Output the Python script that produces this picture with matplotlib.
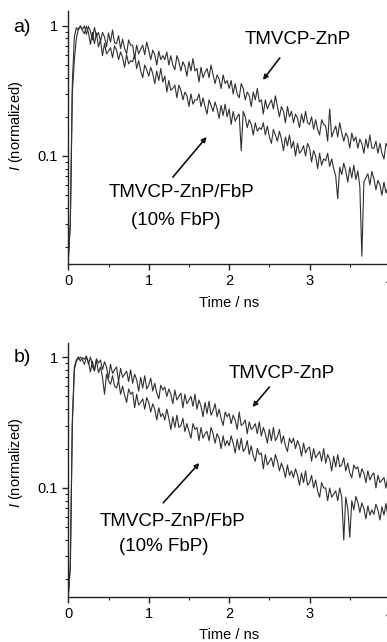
import numpy as np
import matplotlib.pyplot as plt
from matplotlib.ticker import FuncFormatter, NullFormatter, LogLocator, MultipleLocator

plt.rcParams['font.family'] = ['Liberation Sans', 'DejaVu Sans']
plt.rcParams['mathtext.fontset'] = 'custom'
plt.rcParams['mathtext.it'] = 'Liberation Sans:italic'
plt.rcParams['mathtext.rm'] = 'Liberation Sans'

# sampling grid of the decay traces (ns), 0.025 ns channels
time = np.arange(161) * 0.025

# ---- panel a ----
a_znp = [0.016, 0.03, 0.36, 0.82, 0.97, 0.93, 1.0, 0.94,
         1.0, 0.86, 0.99, 0.91, 0.78, 0.97, 0.83, 0.89,
         0.76, 0.89, 0.82, 0.69, 0.88, 0.75, 0.93, 0.74,
         0.73, 0.84, 0.67, 0.79, 0.67, 0.61, 0.78, 0.71,
         0.71, 0.56, 0.71, 0.61, 0.66, 0.71, 0.60, 0.75,
         0.65, 0.55, 0.65, 0.60, 0.50, 0.64, 0.55, 0.59,
         0.55, 0.63, 0.50, 0.59, 0.50, 0.46, 0.59, 0.53,
         0.45, 0.53, 0.49, 0.41, 0.53, 0.45, 0.56, 0.45,
         0.47, 0.37, 0.48, 0.40, 0.44, 0.47, 0.40, 0.50,
         0.42, 0.36, 0.42, 0.39, 0.33, 0.42, 0.36, 0.38,
         0.33, 0.38, 0.30, 0.36, 0.30, 0.28, 0.36, 0.33,
         0.27, 0.31, 0.29, 0.24, 0.31, 0.27, 0.33, 0.26,
         0.27, 0.21, 0.27, 0.23, 0.25, 0.27, 0.23, 0.29,
         0.24, 0.20, 0.24, 0.22, 0.18, 0.24, 0.20, 0.22,
         0.18, 0.21, 0.195, 0.165, 0.21, 0.18, 0.22, 0.18,
         0.175, 0.20, 0.16, 0.19, 0.16, 0.145, 0.19, 0.175,
         0.17, 0.13, 0.23, 0.14, 0.155, 0.17, 0.14, 0.18,
         0.15, 0.13, 0.15, 0.14, 0.115, 0.15, 0.13, 0.14,
         0.115, 0.135, 0.125, 0.105, 0.135, 0.115, 0.145, 0.115,
         0.115, 0.13, 0.105, 0.125, 0.105, 0.095, 0.125, 0.115, 0.12]

a_fbp = [0.016, 0.03, 0.30, 0.55, 0.80, 0.95, 0.99, 0.92,
         0.87, 0.99, 0.89, 0.72, 0.89, 0.73, 0.88, 0.69,
         0.78, 0.59, 0.73, 0.61, 0.64, 0.68, 0.57, 0.70,
         0.65, 0.55, 0.63, 0.57, 0.48, 0.60, 0.51, 0.54,
         0.53, 0.60, 0.47, 0.54, 0.45, 0.40, 0.50, 0.46,
         0.41, 0.48, 0.43, 0.36, 0.45, 0.38, 0.47, 0.37,
         0.41, 0.31, 0.38, 0.32, 0.33, 0.35, 0.28, 0.35,
         0.32, 0.27, 0.31, 0.29, 0.24, 0.30, 0.25, 0.27,
         0.27, 0.30, 0.24, 0.28, 0.24, 0.21, 0.27, 0.245,
         0.22, 0.26, 0.23, 0.195, 0.245, 0.205, 0.25, 0.20,
         0.23, 0.175, 0.22, 0.185, 0.20, 0.21, 0.11, 0.22,
         0.20, 0.165, 0.19, 0.175, 0.145, 0.18, 0.155, 0.165,
         0.16, 0.18, 0.145, 0.17, 0.14, 0.125, 0.16, 0.145,
         0.13, 0.155, 0.135, 0.11, 0.14, 0.12, 0.145, 0.115,
         0.13, 0.10, 0.125, 0.105, 0.11, 0.12, 0.10, 0.125,
         0.115, 0.09, 0.11, 0.10, 0.08, 0.105, 0.085, 0.095,
         0.092, 0.105, 0.083, 0.095, 0.08, 0.07, 0.047, 0.082,
         0.072, 0.088, 0.077, 0.063, 0.082, 0.068, 0.085, 0.066,
         0.077, 0.058, 0.017, 0.063, 0.068, 0.073, 0.06, 0.076,
         0.067, 0.055, 0.065, 0.06, 0.05, 0.063, 0.052, 0.058, 0.062]

# ---- panel b ----
b_znp = [0.015, 0.025, 0.33, 0.84, 0.95, 1.0, 0.93, 0.99,
         0.96, 1.02, 0.88, 1.0, 0.85, 0.78, 0.97, 0.90,
         0.95, 0.80, 0.92, 0.84, 0.69, 0.88, 0.75, 0.80,
         0.84, 0.65, 0.82, 0.70, 0.74, 0.78, 0.65, 0.80,
         0.63, 0.74, 0.67, 0.55, 0.70, 0.58, 0.72, 0.57,
         0.61, 0.69, 0.55, 0.63, 0.53, 0.48, 0.61, 0.56,
         0.59, 0.50, 0.57, 0.52, 0.44, 0.56, 0.47, 0.50,
         0.53, 0.41, 0.52, 0.44, 0.47, 0.50, 0.42, 0.52,
         0.40, 0.47, 0.42, 0.35, 0.45, 0.37, 0.46, 0.36,
         0.39, 0.44, 0.35, 0.40, 0.34, 0.30, 0.38, 0.35,
         0.37, 0.31, 0.36, 0.33, 0.28, 0.38, 0.30, 0.31,
         0.33, 0.26, 0.32, 0.28, 0.29, 0.31, 0.26, 0.32,
         0.25, 0.29, 0.26, 0.22, 0.28, 0.23, 0.29, 0.23,
         0.245, 0.28, 0.22, 0.25, 0.21, 0.19, 0.24, 0.22,
         0.24, 0.20, 0.23, 0.21, 0.175, 0.22, 0.185, 0.20,
         0.205, 0.16, 0.20, 0.17, 0.18, 0.19, 0.16, 0.20,
         0.155, 0.18, 0.165, 0.135, 0.175, 0.145, 0.18, 0.145,
         0.15, 0.17, 0.135, 0.155, 0.13, 0.12, 0.15, 0.14,
         0.145, 0.12, 0.14, 0.13, 0.11, 0.135, 0.115, 0.125,
         0.13, 0.10, 0.125, 0.11, 0.115, 0.12, 0.10, 0.125, 0.11]

b_fbp = [0.015, 0.025, 0.30, 0.80, 0.93, 0.97, 1.0, 0.95,
         0.88, 1.0, 0.92, 0.77, 0.93, 0.79, 0.95, 0.76,
         0.84, 0.70, 0.52, 0.74, 0.66, 0.62, 0.72, 0.60,
         0.58, 0.66, 0.52, 0.60, 0.51, 0.45, 0.57, 0.52,
         0.54, 0.41, 0.52, 0.43, 0.45, 0.48, 0.40, 0.49,
         0.45, 0.38, 0.44, 0.40, 0.33, 0.41, 0.35, 0.37,
         0.33, 0.40, 0.34, 0.28, 0.35, 0.29, 0.36, 0.29,
         0.30, 0.34, 0.27, 0.31, 0.27, 0.24, 0.31, 0.28,
         0.29, 0.23, 0.29, 0.24, 0.26, 0.27, 0.23, 0.29,
         0.26, 0.22, 0.26, 0.24, 0.20, 0.25, 0.21, 0.23,
         0.21, 0.25, 0.22, 0.185, 0.235, 0.195, 0.24, 0.19,
         0.20, 0.23, 0.18, 0.21, 0.175, 0.16, 0.20, 0.18,
         0.185, 0.14, 0.18, 0.15, 0.16, 0.17, 0.145, 0.18,
         0.16, 0.135, 0.155, 0.14, 0.12, 0.15, 0.125, 0.135,
         0.12, 0.14, 0.125, 0.105, 0.13, 0.11, 0.135, 0.105,
         0.11, 0.125, 0.10, 0.115, 0.095, 0.085, 0.11, 0.10,
         0.10, 0.08, 0.10, 0.085, 0.09, 0.095, 0.08, 0.10,
         0.085, 0.04, 0.085, 0.07, 0.042, 0.08, 0.068, 0.086,
         0.078, 0.065, 0.077, 0.07, 0.058, 0.073, 0.062, 0.068,
         0.063, 0.075, 0.068, 0.057, 0.072, 0.062, 0.076, 0.06, 0.07]

label_znp = 'TMVCP-ZnP'
label_fbp = ['TMVCP-ZnP/FbP', '(10% FbP)']

W, H = 387, 642
fig = plt.figure(figsize=(W / 100, H / 100), dpi=100)


def make_axes(top_px, bottom_px):
    # axes rectangle given in pixels; the right end runs past the figure edge
    left, right = 67.5, 390
    return fig.add_axes([left / W, 1 - bottom_px / H,
                         (right - left) / W, (bottom_px - top_px) / H])


def style(ax):
    ax.set_yscale('log')
    ax.set_xlim(-0.01, 4.0)
    for s in ['top', 'right']:
        ax.spines[s].set_visible(False)
    for s in ['left', 'bottom']:
        ax.spines[s].set_linewidth(1.0)
        ax.spines[s].set_color('#222222')
    ax.xaxis.set_major_locator(MultipleLocator(1))
    ax.xaxis.set_minor_locator(MultipleLocator(0.5))
    ax.yaxis.set_major_locator(LogLocator(base=10, numticks=10))
    ax.yaxis.set_minor_locator(LogLocator(base=10, subs=np.arange(2, 10), numticks=20))
    ax.yaxis.set_major_formatter(FuncFormatter(lambda v, p: f'{v:g}'))
    ax.yaxis.set_minor_formatter(NullFormatter())
    ax.tick_params(which='major', direction='out', length=4, width=1,
                   labelsize=10.5, pad=3, color='#222222')
    ax.tick_params(which='minor', direction='out', length=2.5, width=0.8,
                   color='#222222')
    ax.set_xlabel('Time / ns', fontsize=10.5)
    ax.set_ylabel('$I$ (normalized)', fontsize=10.5)
    ax.xaxis.label.set_va('center')


arrow = dict(arrowstyle='-|>', lw=1.2, color='#111111', mutation_scale=7,
             shrinkA=0, shrinkB=0)
trace = dict(color='#303030', lw=0.8)

# ---- panel a ----
ax1 = make_axes(11, 264)
ax1.plot(time, a_znp, **trace)
ax1.plot(time, a_fbp, **trace)
ax1.set_ylim(0.0148, 1.30)
style(ax1)
ax1.xaxis.set_label_coords(0.5, -0.154)
ax1.yaxis.set_label_coords(-0.133, 0.545)
ax1.text(2.85, 0.78, label_znp, ha='center', va='center', fontsize=13.5)
ax1.annotate('', xy=(2.42, 0.384), xytext=(2.63, 0.567), arrowprops=arrow)
ax1.text(1.41, 0.0522, label_fbp[0], ha='center', va='center', fontsize=13.5)
ax1.text(1.33, 0.0322, label_fbp[1], ha='center', va='center', fontsize=13.5)
ax1.annotate('', xy=(1.72, 0.140), xytext=(1.30, 0.0688), arrowprops=arrow)
fig.text(22 / W, 1 - 28 / H, 'a)', ha='center', va='center', fontsize=14)

# ---- panel b ----
ax2 = make_axes(343, 597)
ax2.plot(time, b_znp, **trace)
ax2.plot(time, b_fbp, **trace)
ax2.set_ylim(0.0147, 1.28)
style(ax2)
ax2.xaxis.set_label_coords(0.5, -0.15)
ax2.yaxis.set_label_coords(-0.133, 0.53)
ax2.text(2.66, 0.755, label_znp, ha='center', va='center', fontsize=13.5)
ax2.annotate('', xy=(2.29, 0.415), xytext=(2.50, 0.59), arrowprops=arrow)
ax2.text(1.29, 0.055, label_fbp[0], ha='center', va='center', fontsize=13.5)
ax2.text(1.19, 0.0355, label_fbp[1], ha='center', va='center', fontsize=13.5)
ax2.annotate('', xy=(1.63, 0.155), xytext=(1.18, 0.077), arrowprops=arrow)
fig.text(22 / W, 1 - 357 / H, 'b)', ha='center', va='center', fontsize=14)

fig.savefig('out.png', dpi=100)
